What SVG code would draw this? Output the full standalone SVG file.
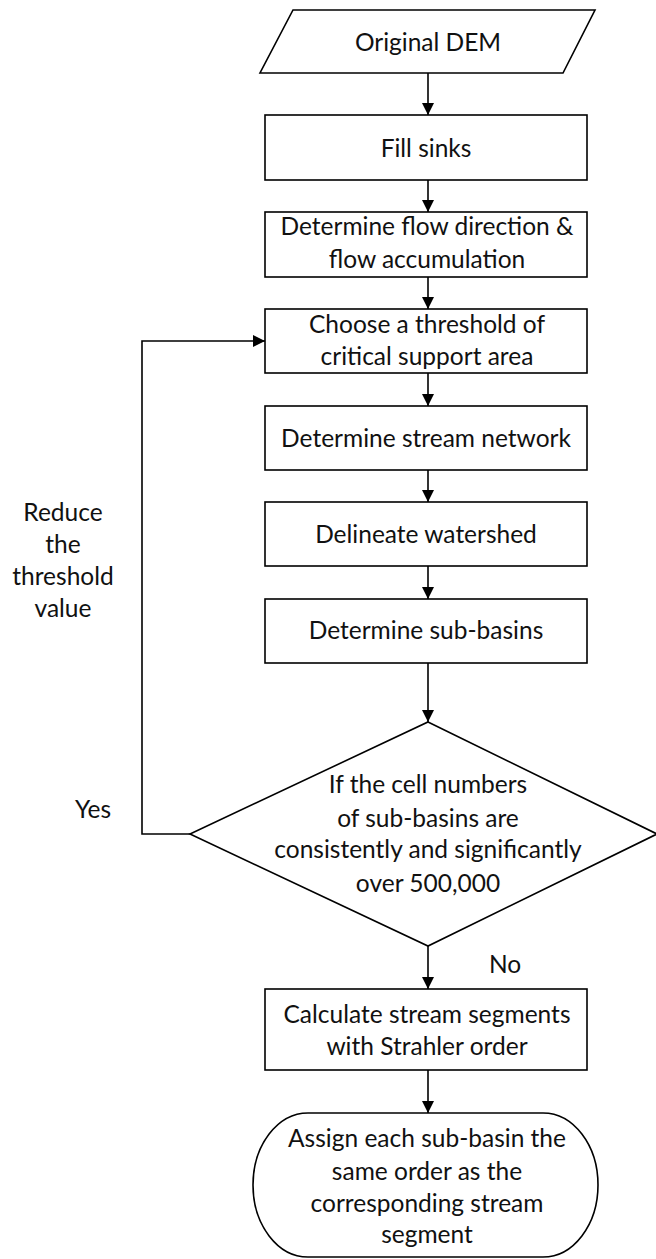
<svg xmlns="http://www.w3.org/2000/svg" width="656" height="1259" viewBox="0 0 656 1259">
<style>
.s{fill:#fff;stroke:#000;stroke-width:1.6}
.c{fill:none;stroke:#000;stroke-width:1.6}
text{font-family:Lato,"Open Sans",sans-serif;font-size:24.5px;fill:#111;text-anchor:middle}
</style>
<defs>
<marker id="ah" markerUnits="userSpaceOnUse" markerWidth="12" markerHeight="12" refX="12" refY="6" orient="auto">
<path d="M0,0 L12,6 L0,12 z" fill="#000"/>
</marker>
</defs>
<rect width="656" height="1259" fill="#fff"/>
<g id="connectors">
<path class="c" d="M428,73 V115" marker-end="url(#ah)"/>
<path class="c" d="M428,180 V212" marker-end="url(#ah)"/>
<path class="c" d="M428,277 V309" marker-end="url(#ah)"/>
<path class="c" d="M428,373 V406" marker-end="url(#ah)"/>
<path class="c" d="M428,470 V502" marker-end="url(#ah)"/>
<path class="c" d="M428,566 V599" marker-end="url(#ah)"/>
<path class="c" d="M428,663 V722" marker-end="url(#ah)"/>
<path class="c" d="M428,946 V989" marker-end="url(#ah)"/>
<path class="c" d="M428,1070 V1113" marker-end="url(#ah)"/>
<path class="c" d="M190,834 H142 V341 H265" marker-end="url(#ah)"/>
<text x="93" y="818">Yes</text>
<text x="505" y="973">No</text>
<text x="63" y="521">Reduce</text>
<text x="63" y="553">the</text>
<text x="63" y="585">threshold</text>
<text x="63" y="617">value</text>
</g>
<g id="n1"><path class="s" d="M293,10 H595 L563,73 H260 Z"/><text x="428" y="51">Original DEM</text></g>
<g id="n2"><rect class="s" x="265" y="115" width="322" height="65"/><text x="426" y="157">Fill sinks</text></g>
<g id="n3"><rect class="s" x="265" y="212" width="322" height="65"/><text x="427" y="235">Determine flow direction &amp;</text><text x="427" y="268">flow accumulation</text></g>
<g id="n4"><rect class="s" x="265" y="309" width="322" height="64"/><text x="427" y="333">Choose a threshold of</text><text x="427" y="365">critical support area</text></g>
<g id="n5"><rect class="s" x="265" y="406" width="322" height="64"/><text x="426" y="447">Determine stream network</text></g>
<g id="n6"><rect class="s" x="265" y="502" width="322" height="64"/><text x="426" y="543">Delineate watershed</text></g>
<g id="n7"><rect class="s" x="265" y="599" width="322" height="64"/><text x="426" y="639">Determine sub-basins</text></g>
<g id="n8"><path class="s" d="M428,722 L657,834 L428,946 L190,834 Z"/>
<text x="428" y="793">If the cell numbers</text>
<text x="428" y="827">of sub-basins are</text>
<text x="428" y="858">consistently and significantly</text>
<text x="428" y="892">over 500,000</text></g>
<g id="n9"><rect class="s" x="265" y="989" width="322" height="81"/><text x="427" y="1023">Calculate stream segments</text><text x="427" y="1055">with Strahler order</text></g>
<g id="n10"><rect class="s" x="253" y="1113" width="345" height="144" rx="55" ry="72"/>
<text x="427" y="1147">Assign each sub-basin the</text>
<text x="427" y="1180">same order as the</text>
<text x="427" y="1212">corresponding stream</text>
<text x="427" y="1243">segment</text></g>
</svg>
